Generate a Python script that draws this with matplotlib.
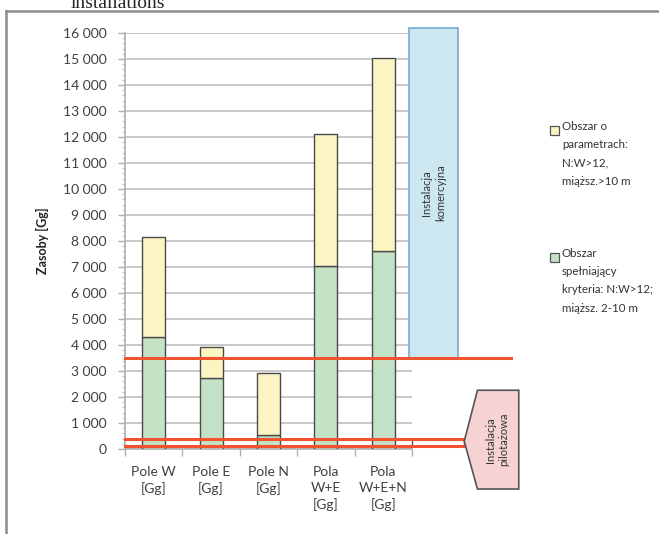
import matplotlib
matplotlib.use('Agg')
import matplotlib.pyplot as plt
from matplotlib.patches import Rectangle, Polygon
from matplotlib.ticker import FuncFormatter, MultipleLocator
import numpy as np

plt.rcParams['font.family'] = ['Lato', 'DejaVu Sans']

# resources per field [Gg]
categories = ['Pole W\n[Gg]', 'Pole E\n[Gg]', 'Pole N\n[Gg]', 'Pola\nW+E\n[Gg]', 'Pola\nW+E+N\n[Gg]']
green_vals = [4300, 2750, 520, 7050, 7620]      # N:W>12, 2-10 m
yellow_vals = [3850, 1170, 2400, 5050, 7430]    # N:W>12, >10 m

# installation thresholds [Gg]
commercial_min = 3500
commercial_max = 16200
pilot_min = 130
pilot_max = 400

W, H = 659, 534
fig = plt.figure(figsize=(W / 100, H / 100), dpi=100)

def fx(px):
    return px / W

def fy(py):
    return 1 - py / H

ax = fig.add_axes([fx(125), fy(449), fx(412) - fx(125), fy(33) - fy(449)])

x = np.arange(len(categories))
green_c = '#c3e2c6'
yellow_c = '#fcf4c3'
edge_c = '#4a4a4a'
ax.bar(x, green_vals, width=0.4, color=green_c, edgecolor=edge_c, linewidth=1, zorder=3)
ax.bar(x, yellow_vals, bottom=green_vals, width=0.4, color=yellow_c, edgecolor=edge_c, linewidth=1, zorder=3)

ax.set_xlim(-0.5, len(categories) - 0.5)
ax.set_ylim(0, 16000)
ax.yaxis.set_major_locator(MultipleLocator(1000))
ax.yaxis.set_minor_locator(MultipleLocator(200))
ax.yaxis.set_major_formatter(FuncFormatter(lambda v, p: f'{int(v):,}'.replace(',', ' ')))
ax.grid(axis='y', color='#c8c8c8', linewidth=1.4, zorder=0)

ax.set_xticks(np.arange(-0.5, len(categories), 1.0))
ax.set_xticklabels([])
ax.set_xticks(x, minor=True)
ax.set_xticklabels(categories, minor=True, fontsize=10, color='#404040', linespacing=1.4, va='top')
ax.tick_params(axis='x', which='minor', length=0, pad=12)
ax.tick_params(axis='x', which='major', length=5, color='#b0b0b0', width=1)
ax.tick_params(axis='y', which='major', length=5, color='#b0b0b0', width=1, labelsize=10, labelcolor='#404040', pad=8)
ax.tick_params(axis='y', which='minor', length=2.5, color='#c8c8c8', width=0.8)

for s in ['top', 'right']:
    ax.spines[s].set_visible(False)
ax.spines['left'].set_color('#b0b0b0')
ax.spines['bottom'].set_color('#b0b0b0')
ax.spines['left'].set_linewidth(1.2)
ax.spines['bottom'].set_linewidth(1.2)

ax.set_ylabel('Zasoby [Gg]', fontsize=9, fontweight='bold', color='#222222', labelpad=10)

# commercial installation box
ax.add_patch(Rectangle((4.44, commercial_min), 0.87, commercial_max - commercial_min,
                       facecolor='#cde7f1', edgecolor='#7fb0d6', linewidth=1.3,
                       clip_on=False, zorder=4))
ax.text(4.875, (commercial_min + commercial_max) / 2, 'Instalacja\nkomercyjna', rotation=90,
        ha='center', va='center', fontsize=8, color='#333333', linespacing=1.3, zorder=5)

# threshold lines
red = '#f2532f'
ax.plot([-0.5, 6.23], [commercial_min, commercial_min], color=red, linewidth=2.2,
        clip_on=False, zorder=6)
ax.add_patch(Rectangle((4.5, pilot_min), 0.91, pilot_max - pilot_min,
                       facecolor='white', edgecolor='#555555', linewidth=1,
                       clip_on=False, zorder=5))
for v in [pilot_min, pilot_max]:
    ax.plot([-0.5, 5.42], [v, v], color=red, linewidth=2.2, clip_on=False, zorder=6)

# pilot installation callout
pent = [(5.41, 300), (5.64, 2260), (6.36, 2260), (6.36, -1540), (5.64, -1540)]
ax.add_patch(Polygon(pent, closed=True, facecolor='#f6d2d2', edgecolor='#555555',
                     linewidth=1.2, clip_on=False, zorder=7))
ax.text(5.98, 360, 'Instalacja\npilotażowa', rotation=90, ha='center', va='center',
        fontsize=8, color='#333333', linespacing=1.3, zorder=8, clip_on=False)

# legend
leg_items = [(yellow_c, 'Obszar o\nparametrach:\nN:W>12,\nmiąższ.>10 m', 121),
             (green_c, 'Obszar\nspełniający\nkryteria: N:W>12;\nmiąższ. 2-10 m', 248)]
for col, txt, top in leg_items:
    fig.patches.append(Rectangle((fx(550), fy(top + 14)), fx(9), fy(0) - fy(9),
                                 transform=fig.transFigure, facecolor=col,
                                 edgecolor='#555555', linewidth=0.9))
    fig.text(fx(562), fy(top), txt, fontsize=8.3, color='#333333',
             va='top', ha='left', linespacing=1.8)

# outer frame
fig.add_artist(plt.Line2D([fx(6), fx(6)], [fy(11), 0], color='#8c8c8c', linewidth=1.8))
fig.add_artist(plt.Line2D([fx(6), 1], [fy(11), fy(11)], color='#8c8c8c', linewidth=1.8))

fig.text(fx(118), fy(8), 'installations', fontsize=14, family='Liberation Serif',
         ha='center', va='baseline', color='#222222')

fig.savefig('out.png', dpi=100)
